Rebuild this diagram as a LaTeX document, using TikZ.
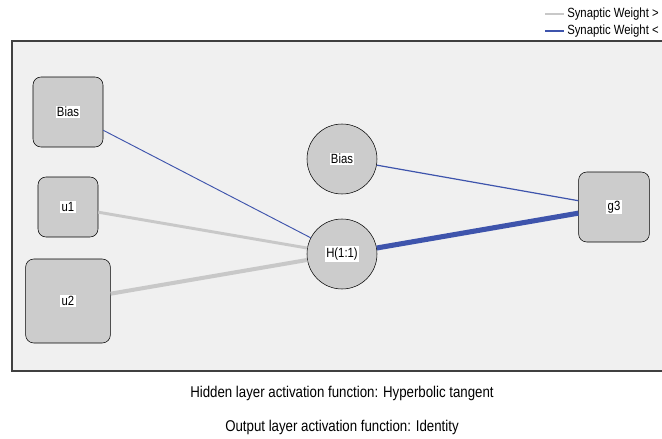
\documentclass[tikz,border=0pt]{standalone}
\usepackage{fontspec}
\setmainfont{Liberation Sans}
\newfontfamily\narrowsf[FakeStretch=0.85]{Liberation Sans}
\definecolor{framebg}{RGB}{240,240,240}
\definecolor{unitfill}{RGB}{204,204,204}
\definecolor{wpos}{RGB}{200,200,200}
\definecolor{wneg}{RGB}{62,84,172}
\newcommand{\wlab}[1]{{\setlength{\fboxsep}{1pt}\colorbox{white}{#1}}}
\begin{document}
\begin{tikzpicture}[x=0.75pt,y=-0.75pt,
  unitbox/.style={draw, fill=unitfill, rounded corners=6pt, font=\narrowsf\fontsize{10}{12}\selectfont, inner sep=0pt},
  unitcirc/.style={draw, fill=unitfill, circle, minimum size=52.5pt, font=\narrowsf\fontsize{10}{12}\selectfont, inner sep=0pt},
  wgt/.style={line width=#1}]
\useasboundingbox (0,0) rectangle (662,439);
\fill[framebg] (12,41) rectangle (670,371);
\draw[black!75, line width=1.2pt] (670,41) -- (12,41) -- (12,371) -- (670,371);

\node[unitbox, minimum width=52.5pt, minimum height=52.5pt] (b1) at (68,112) {\wlab{Bias}};
\node[unitbox, minimum width=45pt, minimum height=45pt] (u1) at (68,207) {\wlab{u1}};
\node[unitbox, minimum width=63.5pt, minimum height=63pt] (u2) at (68,301) {\wlab{u2}};
\node[unitcirc] (b2) at (342,159) {\wlab{Bias}};
\node[unitcirc] (h) at (342,254) {\wlab{H(1:1)}};
\node[unitbox, minimum width=53pt, minimum height=52.5pt] (g3) at (614,207) {\wlab{g3}};

\path[draw=wneg,wgt=0.7pt] (b1) -- (h);
\path[draw=wpos,wgt=2.2pt] (u1) -- (h);
\path[draw=wpos,wgt=3pt] (u2) -- (h);
\path[draw=wneg,wgt=0.9pt] (b2) -- (g3);
\path[draw=wneg,wgt=3.8pt] (h) -- (g3);

\coordinate (l1a) at (545,14);
\coordinate (l1b) at (564,14);
\coordinate (l2a) at (545,31);
\coordinate (l2b) at (564,31);
\path[draw=wpos,wgt=1pt] (l1a) -- (l1b);
\path[draw=wneg,wgt=1.2pt] (l2a) -- (l2b);
\node[anchor=west, inner sep=0pt, font=\narrowsf\fontsize{10}{12}\selectfont] (leg1) at (567,14) {Synaptic Weight >};
\node[anchor=west, inner sep=0pt, font=\narrowsf\fontsize{10}{12}\selectfont] (leg2) at (567,31) {Synaptic Weight <};

\node[font=\narrowsf\fontsize{11.7}{14}\selectfont] (cap1) at (342,393) {Hidden layer activation function: Hyperbolic tangent};
\node[font=\narrowsf\fontsize{11.7}{14}\selectfont] (cap2) at (342,427) {Output layer activation function: Identity};
\end{tikzpicture}
\end{document}
